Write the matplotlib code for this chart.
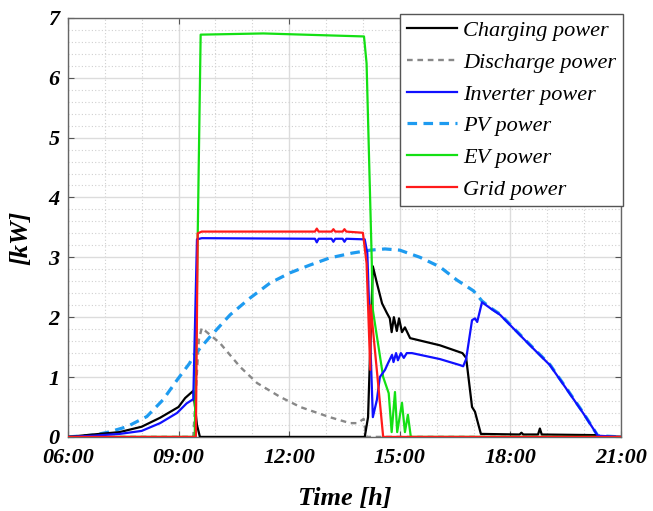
import matplotlib
matplotlib.use("Agg")
import matplotlib.pyplot as plt
from matplotlib.ticker import MultipleLocator, FixedLocator

# ---- series data (time in hours, power in kW) ----
pv_t = [6.0, 6.7, 7.1, 7.6, 8.14, 8.58, 8.96, 9.3, 9.39, 9.85, 10.4, 10.94, 11.48,
        12.02, 12.56, 13.1, 13.7, 14.2, 14.6, 15.0, 15.55, 16.09, 16.55, 17.0, 17.23,
        17.5, 17.72, 18.07, 18.5, 19.07, 19.5, 19.97, 20.37, 21.0]
pv_p = [0.0, 0.03, 0.08, 0.17, 0.34, 0.62, 0.95, 1.23, 1.34, 1.67, 2.04, 2.32, 2.57,
        2.74, 2.87, 2.99, 3.07, 3.12, 3.14, 3.12, 3.0, 2.84, 2.62, 2.44, 2.27,
        2.14, 2.05, 1.83, 1.56, 1.21, 0.83, 0.41, 0.02, 0.0]

inv_t = [6.0, 6.7, 7.4, 8.0, 8.5, 8.96, 9.22, 9.4, 9.5, 9.63, 12.7, 12.75, 12.8,
         13.15, 13.2, 13.25, 13.45, 13.5, 13.55, 14.05, 14.12, 14.27, 14.38, 14.46,
         14.6, 14.68, 14.79, 14.83, 14.9, 14.95, 15.03, 15.11, 15.19, 15.33, 16.09,
         16.63, 16.72, 16.8, 16.96, 17.04, 17.1, 17.23, 17.5, 17.72, 18.07, 18.5,
         19.07, 19.5, 19.97, 20.37, 21.0]
inv_p = [0.0, 0.02, 0.05, 0.1, 0.23, 0.4, 0.56, 0.63, 3.3, 3.32, 3.31, 3.25, 3.31,
         3.31, 3.26, 3.31, 3.31, 3.26, 3.31, 3.3, 3.07, 0.33, 0.62, 1.0,
         1.12, 1.23, 1.37, 1.25, 1.4, 1.28, 1.4, 1.32, 1.4, 1.4, 1.3,
         1.2, 1.18, 1.3, 1.95, 1.98, 1.92, 2.25, 2.13, 2.04, 1.82, 1.55,
         1.2, 0.82, 0.4, 0.02, 0.0]

chg_t = [6.0, 6.68, 7.4, 8.0, 8.5, 9.0, 9.18, 9.4, 9.5, 9.58, 14.05, 14.14, 14.2,
         14.27, 14.38, 14.52, 14.65, 14.73, 14.78, 14.84, 14.92, 14.98, 15.06, 15.14,
         15.28, 16.09, 16.7, 16.8, 16.96, 17.04, 17.1, 17.2, 18.25, 18.3, 18.35,
         18.75, 18.8, 18.85, 20.3, 20.4, 21.0]
chg_p = [0.0, 0.04, 0.08, 0.17, 0.32, 0.5, 0.65, 0.77, 0.2, 0.0, 0.0, 0.33, 1.5,
         2.85, 2.57, 2.23, 2.07, 1.98, 1.75, 2.0, 1.77, 1.98, 1.75, 1.83,
         1.65, 1.53, 1.4, 1.32, 0.5, 0.42, 0.28, 0.05, 0.04, 0.07, 0.04,
         0.04, 0.14, 0.04, 0.03, 0.0, 0.0]

dis_t = [6.0, 9.4, 9.55, 9.63, 10.12, 10.67, 11.13, 11.75, 12.3, 13.1, 13.65,
         13.85, 14.02, 14.1, 21.0]
dis_p = [0.0, 0.0, 1.62, 1.82, 1.57, 1.17, 0.9, 0.67, 0.5, 0.33, 0.23,
         0.23, 0.3, 0.0, 0.0]

ev_t = [6.0, 9.44, 9.6, 11.3, 14.03, 14.1, 14.24, 14.27, 14.55, 14.7, 14.78, 14.87,
        14.93, 15.06, 15.14, 15.22, 15.3, 21.0]
ev_p = [0.0, 0.0, 6.72, 6.74, 6.69, 6.24, 2.95, 2.12, 1.0, 0.73, 0.08, 0.75,
        0.08, 0.57, 0.08, 0.37, 0.0, 0.0]

grid_t = [6.0, 9.47, 9.52, 9.63, 12.7, 12.75, 12.8, 13.15, 13.2, 13.25, 13.45, 13.5,
          13.55, 14.0, 14.1, 14.2, 14.21, 14.55, 21.0]
grid_p = [0.0, 0.0, 3.4, 3.43, 3.43, 3.48, 3.43, 3.43, 3.47, 3.43, 3.43, 3.47,
          3.43, 3.41, 2.9, 1.12, 2.2, 0.0, 0.0]

x_ticks = [6, 9, 12, 15, 18, 21]
x_labels = ["06:00", "09:00", "12:00", "15:00", "18:00", "21:00"]
y_ticks = [0, 1, 2, 3, 4, 5, 6, 7]

serif = ["Liberation Serif", "DejaVu Serif"]
plt.rcParams["font.family"] = serif

fig = plt.figure(figsize=(6.53, 5.11), dpi=100)
ax = fig.add_axes([0.104, 0.145, 0.847, 0.820])

ax.plot(chg_t, chg_p, color="black", lw=1.6, label="Charging power", zorder=3)
ax.plot(dis_t, dis_p, color="#888888", lw=1.7, dashes=(2.4, 2.0),
        label="Discharge power", zorder=2)
ax.plot(inv_t, inv_p, color="#1010ff", lw=1.6, label="Inverter power", zorder=4)
ax.plot(pv_t, pv_p, color="#1e9bf0", lw=2.3, dashes=(3.0, 2.0),
        label="PV power", zorder=2)
ax.plot(ev_t, ev_p, color="#14e014", lw=1.6, label="EV power", zorder=3)
ax.plot(grid_t, grid_p, color="#ff1a1a", lw=1.6, label="Grid power", zorder=5)

ax.set_xlim(6, 21)
ax.set_ylim(0, 7)
ax.xaxis.set_major_locator(FixedLocator(x_ticks))
ax.set_xticklabels(x_labels)
ax.yaxis.set_major_locator(FixedLocator(y_ticks))
ax.xaxis.set_minor_locator(MultipleLocator(1))
ax.yaxis.set_minor_locator(MultipleLocator(0.2))

ax.grid(which="major", color="#dcdcdc", lw=1.0, ls="-")
ax.grid(which="minor", color="#d0d0d0", lw=0.8, ls=(0, (1, 2)))
ax.set_axisbelow(True)

ax.tick_params(which="both", direction="in", top=True, right=True)
ax.tick_params(which="major", length=4, color="#555555")
ax.tick_params(axis="x", which="major", pad=8)
ax.tick_params(axis="y", which="major", pad=6)
ax.tick_params(which="minor", length=0)
for sp in ax.spines.values():
    sp.set_color("#666666")
    sp.set_linewidth(1.0)

for lab in ax.get_xticklabels() + ax.get_yticklabels():
    lab.set_fontsize(16)
    lab.set_fontweight("bold")
    lab.set_fontstyle("italic")

ax.set_xlabel("Time [h]", fontsize=19, fontweight="bold", fontstyle="italic",
              labelpad=14)
ax.set_ylabel("[kW]", fontsize=19, fontweight="bold", fontstyle="italic")
ax.yaxis.set_label_coords(-0.065, 0.475)

leg = ax.legend(loc="upper right", bbox_to_anchor=(623 / 653, 1 - 14 / 511),
                bbox_transform=fig.transFigure, fontsize=16, frameon=True,
                fancybox=False, edgecolor="#555555", framealpha=1.0,
                handlelength=2.25, handletextpad=0.3, labelspacing=0.5,
                borderpad=0.3, borderaxespad=0.0)
leg.get_frame().set_linewidth(1.0)
for txt in leg.get_texts():
    txt.set_fontstyle("italic")

fig.savefig("out.png", dpi=100)
